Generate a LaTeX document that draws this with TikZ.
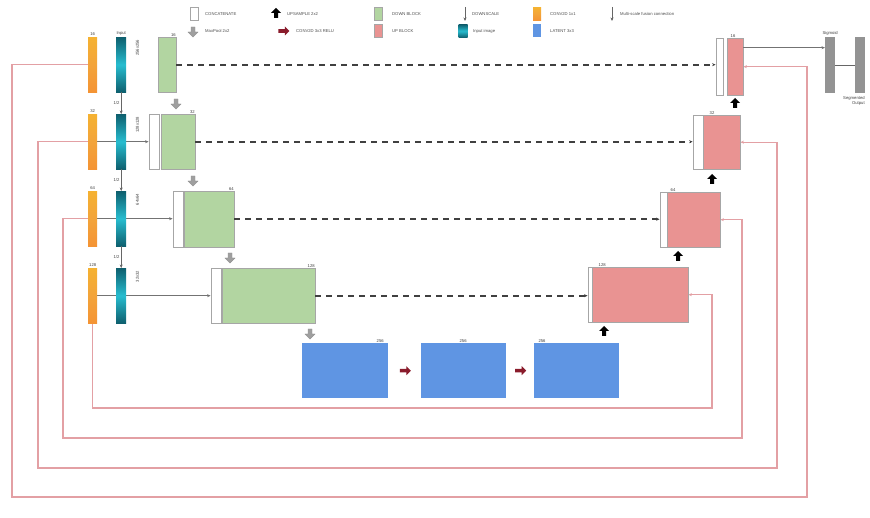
\documentclass[tikz,border=0pt]{standalone}
\usepackage{fontspec}
\setmainfont{Liberation Sans}
\usetikzlibrary{positioning,shapes.arrows,arrows.meta,backgrounds,calc}
\definecolor{blkgreen}{HTML}{B2D5A1}
\definecolor{blkred}{HTML}{E99392}
\definecolor{blkblue}{HTML}{5F95E3}
\definecolor{msred}{HTML}{E3A0A4}
\definecolor{barorange}{HTML}{F3A43A}
\definecolor{tealdark}{HTML}{0E5F6E}
\definecolor{tealmid}{HTML}{27BDD0}
\definecolor{convred}{HTML}{8A1C2C}
\tikzset{
>={Stealth[length=3.5pt,width=3pt]}, % small arrow heads everywhere
box/.style={draw=gray!70, line width=0.4pt, inner sep=0pt, anchor=north west}, % plain block
orangebar/.style={box, draw=none, minimum width=9, minimum height=55, top color=barorange!85!yellow, bottom color=barorange!90!red, middle color=barorange}, % conv 1x1
tealbar/.style={box, draw=none, minimum width=10, minimum height=55, top color=tealdark, bottom color=tealdark, middle color=tealmid}, % input image
downblk/.style={box, fill=blkgreen}, % encoder block
upblk/.style={box, fill=blkred}, % decoder block
midblk/.style={box, draw=none, fill=blkblue}, % bottleneck
catbox/.style={box, fill=white}, % concatenate
sigbar/.style={box, draw=none, fill=gray!85, minimum width=10, minimum height=56}, % output bars
num/.style={inner sep=0.5pt, text=black!75}, % small numbers
lgd/.style={anchor=west, inner sep=0pt, text=black!70}, % legend text
poolarrow/.style={single arrow, fill=gray!75, draw=gray!85, rotate=-90, minimum height=10, minimum width=10, single arrow head extend=1.5, inner sep=0.8pt}, % maxpool
uparrow/.style={single arrow, fill=black, rotate=90, minimum height=10, minimum width=10, single arrow head extend=1.5, inner sep=0.8pt}, % upsample
convarrow/.style={single arrow, fill=convred, minimum height=11, minimum width=9, single arrow head extend=1.5, inner sep=0.8pt}, % conv relu
skipline/.style={->, draw=black!75, line width=1.7pt, dash pattern=on 6pt off 5pt}, % skip connection
inline/.style={->, draw=black!55, line width=0.6pt}, % input to concat
scaleline/.style={->, draw=black!60, line width=0.4pt}, % downscale
msline/.style={->, draw=msred, line width=1.2pt}, % multi-scale connection
}

\begin{document}
\begin{tikzpicture}[x=1pt,y=-1pt,font=\fontsize{4.2}{5}\selectfont]
\useasboundingbox (0,0) rectangle (870,518);

% legend
\node[catbox, minimum width=8, minimum height=13, anchor=center] (l1) at (194,14) {};
\node[lgd] (l1t) at (205,14) {CONCATENATE};
\node[uparrow] (l2) at (276,14) {};
\node[lgd] (l2t) at (287,14) {UPSAMPLE 2x2};
\node[downblk, minimum width=8, minimum height=13, anchor=center] (l3) at (378,14) {};
\node[lgd] (l3t) at (392,14) {DOWN BLOCK};
\coordinate (l4a) at (465,7);
\coordinate (l4b) at (465,21);
\node[lgd] (l4t) at (472,14) {DOWNSCALE};
\node[orangebar, minimum width=8, minimum height=13, anchor=center] (l5) at (537,14) {};
\node[lgd] (l5t) at (550,14) {CONV2D 1x1};
\coordinate (l6a) at (612,7);
\coordinate (l6b) at (612,21);
\node[lgd] (l6t) at (620,14) {Multi-scale fusion connection};
\node[poolarrow] (l7) at (193,31) {};
\node[lgd] (l7t) at (205,31) {MaxPool 2x2};
\node[convarrow] (l8) at (283,31) {};
\node[lgd] (l8t) at (296,31) {CONV2D 3x3 RELU};
\node[upblk, minimum width=8, minimum height=13, anchor=center] (l9) at (378,31) {};
\node[lgd] (l9t) at (392,31) {UP BLOCK};
\node[tealbar, minimum width=9, minimum height=13, anchor=center] (l10) at (463,31) {};
\node[lgd] (l10t) at (473,31) {Input image};
\node[midblk, minimum width=8, minimum height=13, anchor=center] (l11) at (537,31) {};
\node[lgd] (l11t) at (550,31) {LATENT 3x3};
\draw[scaleline] (l4a) -- (l4b);
\draw[scaleline] (l6a) -- (l6b);

% inputs at four scales
\foreach \i/\t/\n/\s in {1/37/16/256,2/114/32/128,3/191/64/64,4/268/128/32} {
  \node[orangebar] (o\i) at (88,\t) {};
  \node[tealbar] (t\i) at (116,\t) {};
  \node[num, above=1pt of o\i] (o\i n) {\n};
  \node[num, rotate=90, anchor=east] (t\i s) at ([xshift=11pt,yshift=-2pt]t\i.north east) {\s x\s};
}
\node[num, above=1pt of t1] (t1n) {Input};
\foreach \i/\j in {1/2,2/3,3/4} {
  \draw[scaleline] (t\i.south) -- (t\j.north) node[num, midway, left=1pt] (h\i) {1/2};
}

% encoder
\node[downblk, minimum width=18, minimum height=55] (g1) at (158,37) {};
\node[downblk, minimum width=34, minimum height=55] (g2) at (161,114) {};
\node[downblk, minimum width=50, minimum height=56] (g3) at (184,191) {};
\node[downblk, minimum width=93, minimum height=55] (g4) at (222,268) {};
\node[catbox, minimum width=10, minimum height=55, left=2pt of g2] (g2c) {};
\node[catbox, minimum width=10, minimum height=56, left=1pt of g3] (g3c) {};
\node[catbox, minimum width=10, minimum height=55, left=1pt of g4] (g4c) {};
\foreach \i/\n in {1/16,2/32,3/64,4/128}
  \node[num, above left=0pt and 0pt of g\i.north east] (g\i n) {\n};
\node[poolarrow] (p1) at (176,103) {};
\node[poolarrow] (p2) at (193,180) {};
\node[poolarrow] (p3) at (230,257) {};
\node[poolarrow] (p4) at (310,333) {};

% bottleneck
\node[midblk, minimum width=86, minimum height=55] (b1) at (302,343) {};
\node[midblk, minimum width=85, minimum height=55, right=32pt of b1] (b2) {};
\node[midblk, minimum width=85, minimum height=55, right=28pt of b2] (b3) {};
\node[num, above left=0pt and 4pt of b1.north east] (b1n) {256};
\node[num, above=0pt of b2] (b2n) {256};
\node[num, above right=0pt and 4pt of b3.north west] (b3n) {256};
\node[convarrow] (r1) at ($(b1.east)!0.5!(b2.west)$) {};
\node[convarrow] (r2) at ($(b2.east)!0.5!(b3.west)$) {};

% decoder
\node[upblk, minimum width=96, minimum height=55] (u4) at (592,267) {};
\node[upblk, minimum width=53, minimum height=55] (u3) at (667,192) {};
\node[upblk, minimum width=37, minimum height=54] (u2) at (703,115) {};
\node[upblk, minimum width=16, minimum height=57] (u1) at (727,38) {};
\node[catbox, minimum width=4, minimum height=55, left=0pt of u4] (u4c) {};
\node[catbox, minimum width=7, minimum height=55, left=0pt of u3] (u3c) {};
\node[catbox, minimum width=10, minimum height=54, left=0pt of u2] (u2c) {};
\node[catbox, minimum width=7, minimum height=57, left=4pt of u1] (u1c) {};
\node[num, above right=0pt and 6pt of u4.north west] (u4n) {128};
\node[num, above right=0pt and 3pt of u3.north west] (u3n) {64};
\node[num, above right=0pt and 6pt of u2.north west] (u2n) {32};
\node[num, above right=0pt and 3pt of u1.north west] (u1n) {16};
\node[uparrow] (a4) at (604,332) {};
\node[uparrow] (a3) at (678,257) {};
\node[uparrow] (a2) at (712,180) {};
\node[uparrow] (a1) at (735,104) {};

% output
\node[sigbar] (s1) at (825,37) {};
\node[sigbar] (s2) at (855,37) {};
\node[num, above=1pt of s1] (s1n) {Sigmoid};
\node[num, below left=2pt and 0pt of s2.south east, align=right] (s2n) {Segmented\\Output};

% turning points of the multi-scale connections
\coordinate (m1l) at (12,497);
\coordinate (m1r) at (807,497);
\coordinate (m2l) at (38,468);
\coordinate (m2r) at (777,468);
\coordinate (m3l) at (63,438);
\coordinate (m3r) at (742,438);
\coordinate (m4r) at (712,408);

\begin{scope}[on background layer]
\draw[msline] (o1.west) -| (m1l) -- (m1r) |- (u1.east);
\draw[msline] (o2.west) -| (m2l) -- (m2r) |- (u2.east);
\draw[msline] (o3.west) -| (m3l) -- (m3r) |- (u3.east);
\draw[msline] (o4.south) |- (m4r) |- (u4.east);
\draw[inline] (o2.east) -- (o2.east -| g2c.west);
\draw[inline] (o3.east) -- (o3.east -| g3c.west);
\draw[inline] (o4.east) -- (o4.east -| g4c.west);
\end{scope}
\draw[skipline] (g1.east) -- (g1.east -| u1c.west);
\draw[skipline] (g2.east) -- (g2.east -| u2c.west);
\draw[skipline] (g3.east) -- (g3.east -| u3c.west);
\draw[skipline] (g4.east) -- (g4.east -| u4c.west);
\draw[inline] ([yshift=19pt]u1.east) -- ([yshift=19pt]u1.east -| s1.west);
\draw[draw=black!60, line width=0.6pt] (s1.east) -- (s2.west);
\end{tikzpicture}
\end{document}
